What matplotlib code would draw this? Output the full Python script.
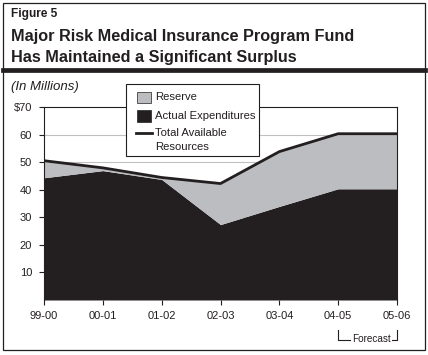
import numpy as np
import matplotlib
matplotlib.use('Agg')
import matplotlib.pyplot as plt
from matplotlib.patches import Rectangle
from matplotlib.lines import Line2D
from matplotlib.transforms import blended_transform_factory

plt.rcParams['font.family'] = ['Liberation Sans', 'DejaVu Sans']

# data (in millions)
years = ['99-00', '00-01', '01-02', '02-03', '03-04', '04-05', '05-06']
total_resources = [50.6, 48.0, 44.5, 42.3, 53.9, 60.4, 60.4]
actual_expend = [44.4, 47.0, 43.8, 27.4, 34.0, 40.4, 40.4]
y_ticks = [10, 20, 30, 40, 50, 60, 70]
y_labels = ['10', '20', '30', '40', '50', '60', '$70']

W, H = 428, 355
BLACK = '#231f20'
GREY = '#bcbdc1'

def fx(x):
    return x / W

def fy(y):
    return 1 - y / H

fig = plt.figure(figsize=(W / 100, H / 100), dpi=100)

# outer frame and title bar
fig.add_artist(Rectangle((fx(3), fy(349.5)), fx(422), 346.5 / H, fill=False,
                         edgecolor=BLACK, lw=0.9, transform=fig.transFigure))
fig.add_artist(Line2D([fx(3), fx(425)], [fy(70.3), fy(70.3)], color=BLACK, lw=3.4,
                      transform=fig.transFigure))

fig.text(fx(11), fy(17.3), 'Figure 5', fontsize=8.6, fontweight='bold', color=BLACK, va='baseline')
fig.text(fx(11), fy(41), 'Major Risk Medical Insurance Program Fund', fontsize=11.7,
         fontweight='bold', color=BLACK, va='baseline')
fig.text(fx(11), fy(61.7), 'Has Maintained a Significant Surplus', fontsize=11.7,
         fontweight='bold', color=BLACK, va='baseline')
fig.text(fx(11), fy(89.7), '(In Millions)', fontsize=9.5, style='italic', color=BLACK, va='baseline')

ax = fig.add_axes([fx(44), fy(300), (397 - 44) / W, (300 - 107.3) / H])
x = np.arange(len(years))
ax.fill_between(x, 0, actual_expend, color=BLACK, lw=0, zorder=2)
ax.fill_between(x, actual_expend, total_resources, color=GREY, lw=0, zorder=2)
ax.plot(x, total_resources, color=BLACK, lw=2.0, zorder=3, solid_joinstyle='round')

ax.set_xlim(0, len(years) - 1)
ax.set_ylim(0, 70)
ax.set_xticks(x)
ax.set_xticklabels(years)
ax.set_yticks(y_ticks)
ax.set_yticklabels(y_labels)
for yv in y_ticks[:-1]:
    ax.axhline(yv, color='#c0c0c0', lw=0.8, zorder=1)
ax.tick_params(axis='both', labelsize=8, colors=BLACK, length=3.6, width=0.8)
ax.tick_params(axis='y', pad=5.0)
ax.tick_params(axis='x', pad=4)
for s in ax.spines.values():
    s.set_color(BLACK)
    s.set_linewidth(0.8)
ax.spines['bottom'].set_visible(False)

# legend drawn by hand
fig.add_artist(Rectangle((fx(126), fy(155.7)), fx(133.3), 71.7 / H, facecolor='white',
                         edgecolor=BLACK, lw=0.8, transform=fig.transFigure, zorder=10))
fig.add_artist(Rectangle((fx(136.7), fy(103.3)), fx(14), 11.6 / H, facecolor=GREY,
                         edgecolor=BLACK, lw=0.5, transform=fig.transFigure, zorder=11))
fig.add_artist(Rectangle((fx(136.7), fy(122)), fx(14), 12 / H, facecolor=BLACK,
                         edgecolor=BLACK, lw=0.5, transform=fig.transFigure, zorder=11))
fig.add_artist(Line2D([fx(136), fx(152)], [fy(133.3), fy(133.3)], color=BLACK, lw=2.0,
                      transform=fig.transFigure, zorder=11))
leg_font = dict(fontsize=8.1, color=BLACK, va='center', zorder=12)
fig.text(fx(155), fy(97.5), 'Reserve', **leg_font)
fig.text(fx(155), fy(116), 'Actual Expenditures', **leg_font)
fig.text(fx(155), fy(133), 'Total Available', **leg_font)
fig.text(fx(155), fy(147), 'Resources', **leg_font)

# forecast bracket under the last two years
tr = blended_transform_factory(ax.transData, fig.transFigure)
x0, x1 = len(years) - 2, len(years) - 1
ax.add_artist(Line2D([x0, x0, x0 + 0.2], [fy(330), fy(340), fy(340)], color=BLACK, lw=0.8,
                     transform=tr, clip_on=False))
ax.add_artist(Line2D([x1 - 0.08, x1, x1], [fy(340), fy(340), fy(330)], color=BLACK, lw=0.8,
                     transform=tr, clip_on=False))
ax.text(x0 + 0.57, fy(339), 'Forecast', fontsize=7.2, color=BLACK, ha='center', va='center',
        transform=tr)

fig.savefig('out.png', dpi=100)
